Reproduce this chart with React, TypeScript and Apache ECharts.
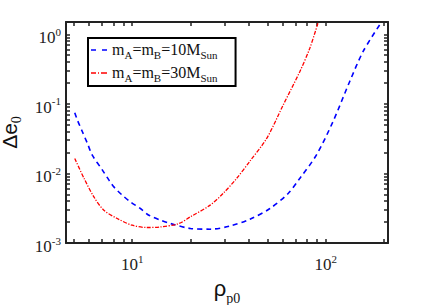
import React, { useEffect, useRef } from "react";
import * as echarts from "echarts";

// Series 1: m_A = m_B = 10 M_Sun (blue dashed)
const rho10 = [5.05, 5.21, 5.53, 5.87, 6.22, 7.02, 7.59, 8.04, 8.89, 9.8, 11.03, 12.2, 14.0, 15.7, 19.95, 25.3, 32.0, 40.6, 51.5, 64, 73.5, 89.5, 109, 133, 156, 190];
const de10 = [0.0745, 0.0585, 0.0397, 0.027, 0.0183, 0.01115, 0.008, 0.0064, 0.00487, 0.0039, 0.00313, 0.00251, 0.00213, 0.00191, 0.00162, 0.00158, 0.00175, 0.0022, 0.00313, 0.00515, 0.00848, 0.0183, 0.0552, 0.208, 0.562, 1.36];
// Series 2: m_A = m_B = 30 M_Sun (red dash-dot)
const rho30 = [5.05, 5.64, 6.34, 7.14, 8.37, 10.0, 11.9, 14.0, 17.4, 20.0, 25.3, 29.6, 34.7, 40.6, 49.6, 60.3, 73.5, 82.8, 91.2];
const de30 = [0.0164, 0.00848, 0.0046, 0.00296, 0.00225, 0.0018, 0.00167, 0.0017, 0.0019, 0.00238, 0.0035, 0.0052, 0.0085, 0.015, 0.0319, 0.096, 0.29, 0.63, 1.44];

const seriesNames = ["m10", "m30"];
const legendLabels = ["{m|m}{s|A}{m|=m}{s|B}{m|=10M}{s|Sun}", "{m|m}{s|A}{m|=m}{s|B}{m|=30M}{s|Sun}"];
const legendIcons = ["path://M0,0H5V1H0ZM11,0H16V1H11Z", "path://M0,0H5V1H0ZM7,0H8V1H7ZM10,0H16V1H10Z"];

const xMin = 4.55;
const xMax = 210;
const yMin = 0.001;
const yMax = 1.5;
const xTickValues = [5, 6, 7, 8, 9, 10, 20, 30, 40, 50, 60, 70, 80, 90, 100, 200];
const xLabelValues = [10, 100];
const yTickValues = [
  0.001, 0.002, 0.003, 0.004, 0.005, 0.006, 0.007, 0.008, 0.009,
  0.01, 0.02, 0.03, 0.04, 0.05, 0.06, 0.07, 0.08, 0.09,
  0.1, 0.2, 0.3, 0.4, 0.5, 0.6, 0.7, 0.8, 0.9, 1,
];
const yLabelValues = [0.001, 0.01, 0.1, 1];

const axisColor = "#222222";
const serif = "'Liberation Serif', 'DejaVu Serif', serif";
const sans = "'Liberation Sans', Arial, sans-serif";

function powLabel(v: number) {
  const e = Math.round(Math.log10(v));
  return "{b|10}{s|" + e + "}";
}

const labelRich = {
  b: { fontFamily: serif, fontSize: 17, color: "#222", verticalAlign: "bottom", lineHeight: 24 },
  s: { fontFamily: serif, fontSize: 11, color: "#222", verticalAlign: "bottom", padding: [0, 0, 9, 0], lineHeight: 24 },
};

export default function App() {
  const ref = useRef<HTMLDivElement>(null);
  useEffect(() => {
    document.body.style.margin = "0";
    if (!ref.current) return;
    const chart = echarts.init(ref.current, null, { renderer: "svg" });
    const baseX = (pos: string, show: boolean, idx: number) => ({
      type: "log",
      position: pos,
      min: xMin,
      max: xMax,
      logBase: 10,
      axisLine: { show: true, onZero: false, lineStyle: { color: axisColor, width: 2 } },
      axisTick: { show: true, inside: true, length: 4, customValues: xTickValues, lineStyle: { color: axisColor, width: 1.5 } },
      axisLabel: show
        ? { show: true, customValues: xLabelValues, formatter: powLabel, margin: 6, rich: labelRich }
        : { show: false },
      splitLine: { show: false },
      minorTick: { show: false },
      ...(idx === 0
        ? {
            name: "{a|ρ}{s|p0}",
            nameLocation: "middle",
            nameGap: 28,
            nameTextStyle: {
              rich: {
                a: { fontFamily: sans, fontSize: 22, color: "#111", verticalAlign: "bottom", lineHeight: 26, padding: [0, 0, 6, 0] },
                s: { fontFamily: serif, fontSize: 14, color: "#111", verticalAlign: "bottom", lineHeight: 26 },
              },
            },
          }
        : {}),
    });
    const baseY = (pos: string, show: boolean, idx: number) => ({
      type: "log",
      position: pos,
      min: yMin,
      max: yMax,
      logBase: 10,
      axisLine: { show: true, onZero: false, lineStyle: { color: axisColor, width: 2 } },
      axisTick: { show: true, inside: true, length: 4, customValues: yTickValues, lineStyle: { color: axisColor, width: 1.5 } },
      axisLabel: show
        ? { show: true, customValues: yLabelValues, formatter: powLabel, margin: 5, rich: labelRich }
        : { show: false },
      splitLine: { show: false },
      minorTick: { show: false },
      ...(idx === 0
        ? {
            name: "{a|Δe}{s|0}",
            nameLocation: "middle",
            nameRotate: 90,
            nameGap: 37,
            nameTextStyle: {
              rich: {
                a: { fontFamily: sans, fontSize: 21, color: "#111", verticalAlign: "bottom", lineHeight: 18, padding: [0, 0, 4, 0] },
                s: { fontFamily: serif, fontSize: 14, color: "#111", verticalAlign: "bottom", lineHeight: 14 },
              },
            },
          }
        : {}),
    });
    const toPairs = (xs: number[], ys: number[]) => xs.map((x, i) => [x, ys[i]]);
    chart.setOption({
      animation: false,
      backgroundColor: "#ffffff",
      grid: { left: 66, right: 43, top: 22, bottom: 62, containLabel: false, outerBoundsMode: "none" },
      xAxis: [baseX("bottom", true, 0), baseX("top", false, 1)],
      yAxis: [baseY("left", true, 0), baseY("right", false, 1)],
      legend: {
        left: 88,
        top: 38,
        orient: "vertical",
        backgroundColor: "#fff",
        borderColor: "#000",
        borderWidth: 2,
        borderRadius: 0,
        padding: [3, 18, 2, 3],
        itemGap: 3,
        itemWidth: 16,
        itemHeight: 1.6,
        symbolKeepAspect: false,
        data: seriesNames.map((n, i) => ({ name: n, icon: legendIcons[i] })),
        formatter: (name: string) => legendLabels[seriesNames.indexOf(name)],
        textStyle: {
          rich: {
            m: { fontFamily: serif, fontSize: 16, color: "#111", verticalAlign: "bottom", lineHeight: 22, padding: [0, 0, 4, 0] },
            s: { fontFamily: serif, fontSize: 11, color: "#111", verticalAlign: "bottom", lineHeight: 22 },
          },
        },
      },
      series: [
        {
          name: seriesNames[0],
          type: "line",
          xAxisIndex: 0,
          yAxisIndex: 0,
          smooth: 0.3,
          showSymbol: false,
          symbol: "none",
          data: toPairs(rho10, de10),
          lineStyle: { color: "#0000ff", width: 1.6, type: [5, 4] },
          itemStyle: { color: "#0000ff" },
        },
        {
          name: seriesNames[1],
          type: "line",
          xAxisIndex: 0,
          yAxisIndex: 0,
          smooth: 0.3,
          showSymbol: false,
          symbol: "none",
          data: toPairs(rho30, de30),
          lineStyle: { color: "#ff0000", width: 1.3, type: [4, 1.5, 1.2, 1.5] },
          itemStyle: { color: "#ff0000" },
        },
      ],
    });
    return () => chart.dispose();
  }, []);
  return <div ref={ref} style={{ width: 431, height: 305 }} />;
}
